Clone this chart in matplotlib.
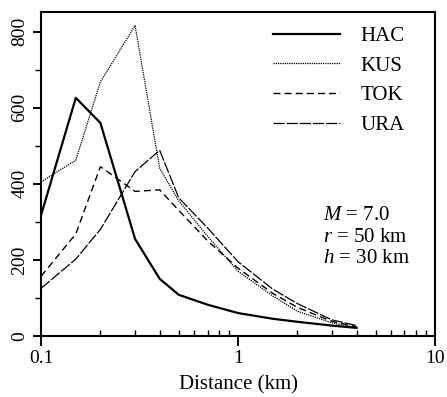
import matplotlib
matplotlib.use("Agg")
import matplotlib.pyplot as plt
from matplotlib.ticker import FixedLocator, NullFormatter

plt.rcParams['font.family'] = ['Liberation Serif', 'DejaVu Serif']
plt.rcParams['mathtext.fontset'] = 'custom'
plt.rcParams['mathtext.rm'] = 'Liberation Serif'
plt.rcParams['mathtext.it'] = 'Liberation Serif:italic'

# distance (km) and values
dist = [0.1, 0.15, 0.2, 0.3, 0.4, 0.5, 0.7, 1.0, 1.5, 2.0, 3.0, 4.0]
hac = [318, 626, 560, 255, 150, 108, 82, 60, 45, 37, 27, 21]
kus = [405, 462, 668, 816, 441, 355, 262, 170, 105, 65, 34, 22]
tok = [157, 268, 445, 380, 384, 330, 250, 178, 112, 75, 38, 24]
ura = [125, 202, 280, 432, 488, 363, 284, 195, 123, 85, 42, 27]
series = ["HAC", "KUS", "TOK", "URA"]
note = [r"$M$ = 7.0", r"$r$ = 50 km", r"$h$ = 30 km"]

fig = plt.figure(figsize=(4.47, 3.97), dpi=100)
ax = fig.add_axes([0.092, 0.154, 0.881, 0.816])

ax.plot(dist, hac, '-', color='black', lw=1.6, label=series[0])
ax.plot(dist, kus, color='black', lw=0.9, linestyle=(0, (1, 0.8)), label=series[1])
ax.plot(dist, tok, color='black', lw=1.0, linestyle=(0, (5, 3)), label=series[2])
ax.plot(dist, ura, color='black', lw=0.9, linestyle=(0, (9, 1.5)), label=series[3])

ax.set_xscale('log')
ax.set_xlim(0.1, 10)
ax.set_ylim(0, 852)
ax.set_xticks([0.1, 1, 10])
ax.set_xticklabels(["0.1", "1", "10"])
ax.xaxis.set_minor_locator(FixedLocator([0.2, 0.3, 0.4, 0.5, 0.6, 0.7, 0.8, 0.9,
                                         2, 3, 4, 5, 6, 7, 8, 9]))
ax.xaxis.set_minor_formatter(NullFormatter())
ax.set_yticks([0, 200, 400, 600, 800])
ax.set_yticks([100, 300, 500, 700], minor=True)

ax.tick_params(axis='x', which='major', direction='out', length=7, width=1.4,
               labelsize=14, pad=3)
ax.tick_params(axis='x', which='minor', direction='in', length=4, width=1.0)
ax.tick_params(axis='y', which='major', direction='out', length=6, width=1.4,
               labelsize=14, pad=3)
ax.tick_params(axis='y', which='minor', direction='out', length=4, width=1.0)
for lab in ax.get_yticklabels():
    lab.set_rotation(90)
    lab.set_va('center')

for sp in ax.spines.values():
    sp.set_linewidth(1.5)

ax.set_xlabel("Distance (km)", fontsize=15, labelpad=6)

leg = ax.legend(loc='upper right', frameon=False, fontsize=15, handlelength=3.2,
                handletextpad=1.0, labelspacing=0.48, borderaxespad=0.3,
                bbox_to_anchor=(0.96, 1.0))

for i, t in enumerate(note):
    ax.text(0.715, 0.37 - i * 0.065, t, transform=ax.transAxes, fontsize=15,
            va='center', ha='left')

fig.savefig("out.png", dpi=100)
